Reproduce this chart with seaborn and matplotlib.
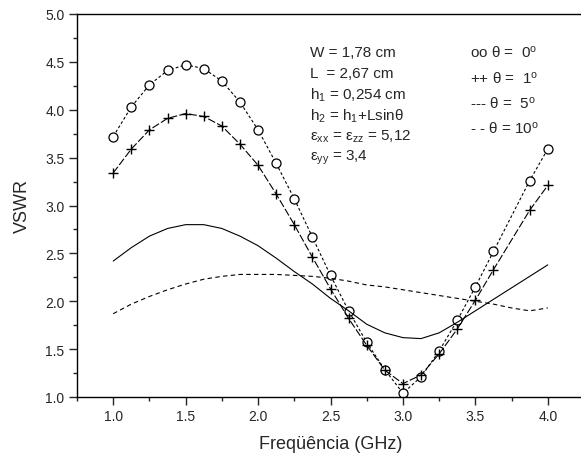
import numpy as np
import pandas as pd
import seaborn as sns
import matplotlib.pyplot as plt
from matplotlib.ticker import MultipleLocator

sns.set_style("ticks")
plt.rcParams['font.family'] = ['Liberation Sans', 'DejaVu Sans']
plt.rcParams['mathtext.fontset'] = 'custom'
plt.rcParams['mathtext.rm'] = 'Liberation Sans'
plt.rcParams['mathtext.it'] = 'Liberation Sans'

# frequências com marcadores (GHz)
freq_m = [1.0, 1.125, 1.25, 1.375, 1.5, 1.625, 1.75, 1.875, 2.0, 2.125, 2.25,
          2.375, 2.5, 2.625, 2.75, 2.875, 3.0, 3.125, 3.25, 3.375, 3.5, 3.625,
          3.875, 4.0]
vswr_0 = [3.72, 4.03, 4.26, 4.41, 4.47, 4.43, 4.30, 4.08, 3.79, 3.44, 3.07,
          2.67, 2.27, 1.90, 1.57, 1.285, 1.04, 1.21, 1.48, 1.80, 2.15, 2.52,
          3.26, 3.59]
vswr_1 = [3.34, 3.59, 3.79, 3.91, 3.96, 3.93, 3.83, 3.64, 3.42, 3.12, 2.80,
          2.46, 2.13, 1.82, 1.54, 1.28, 1.14, 1.23, 1.45, 1.71, 2.01, 2.33,
          2.95, 3.21]

# curvas contínuas
freq_c = [1.0, 1.125, 1.25, 1.375, 1.5, 1.625, 1.75, 1.875, 2.0, 2.125, 2.25,
          2.375, 2.5, 2.625, 2.75, 2.875, 3.0, 3.125, 3.25, 3.375, 3.5, 3.625,
          3.75, 3.875, 4.0]
vswr_5 = [2.42, 2.56, 2.68, 2.76, 2.80, 2.80, 2.76, 2.68, 2.58, 2.45, 2.31,
          2.18, 2.03, 1.90, 1.76, 1.67, 1.62, 1.61, 1.67, 1.78, 1.90, 2.02,
          2.14, 2.26, 2.38]
vswr_10 = [1.87, 1.97, 2.05, 2.12, 2.18, 2.23, 2.26, 2.28, 2.28, 2.28, 2.27,
           2.26, 2.24, 2.21, 2.17, 2.15, 2.12, 2.09, 2.06, 2.03, 2.00, 1.97,
           1.93, 1.90, 1.93]

fig = plt.figure(figsize=(5.81, 4.64), dpi=100)
ax = fig.add_axes([77 / 581, 1 - 398 / 464, (584 - 77) / 581, (398 - 15) / 464])

sns.lineplot(x=freq_m, y=vswr_0, ax=ax, color='black', lw=0.8, linestyle=(0, (2.5, 2)),
             marker='o', markersize=6.5, markerfacecolor='white', markeredgecolor='black',
             markeredgewidth=0.9)
sns.lineplot(x=freq_m, y=vswr_1, ax=ax, color='black', lw=0.8, linestyle=(0, (7, 2)),
             marker='+', markersize=7, markeredgecolor='black', markeredgewidth=1.0)
sns.lineplot(x=freq_c, y=vswr_5, ax=ax, color='black', lw=0.8, linestyle='-')
sns.lineplot(x=freq_c, y=vswr_10, ax=ax, color='black', lw=0.8, linestyle=(0, (4, 3)))

ax.set_xlim(0.75, 4.25)
ax.set_ylim(1.0, 5.0)
ax.xaxis.set_major_locator(MultipleLocator(0.5))
ax.xaxis.set_minor_locator(MultipleLocator(0.25))
ax.yaxis.set_major_locator(MultipleLocator(0.5))
ax.yaxis.set_minor_locator(MultipleLocator(0.25))
ax.tick_params(which='major', direction='out', length=5.5, width=1.0, labelsize=10)
ax.tick_params(which='minor', direction='out', length=3, width=1.0)
ax.set_xticks(np.arange(1.0, 4.01, 0.5))
ax.set_xticklabels([f"{v:.1f}" for v in np.arange(1.0, 4.01, 0.5)])
for s in ax.spines.values():
    s.set_linewidth(1.0)
    s.set_color('black')
ax.spines['right'].set_visible(False)

ax.set_xlabel('Freqüência (GHz)', fontsize=13, labelpad=8)
ax.set_ylabel('VSWR', fontsize=13, labelpad=10)

# parâmetros da antena
params = ['W = 1,78 cm', 'L  = 2,67 cm', r'h$_{1}$ = 0,254 cm',
          r'h$_{2}$ = h$_{1}$+Lsin$\theta$', r'$\epsilon_{xx}$ = $\epsilon_{zz}$ = 5,12',
          r'$\epsilon_{yy}$ = 3,4']
ys_p = [53, 74, 95, 116, 137, 158]
for t, yp in zip(params, ys_p):
    fig.text(310 / 581, 1 - yp / 464, t, fontsize=11, va='center', ha='left')

legend_txt = [r'oo $\theta$ =  0$^{o}$', r'++ $\theta$ =  1$^{o}$',
              r'--- $\theta$ =  5$^{o}$', r'- - $\theta$ = 10$^{o}$']
ys_l = [53, 79, 104, 129]
for t, yp in zip(legend_txt, ys_l):
    fig.text(470 / 581, 1 - yp / 464, t, fontsize=11, va='center', ha='left')

fig.savefig('out.png', dpi=100)
